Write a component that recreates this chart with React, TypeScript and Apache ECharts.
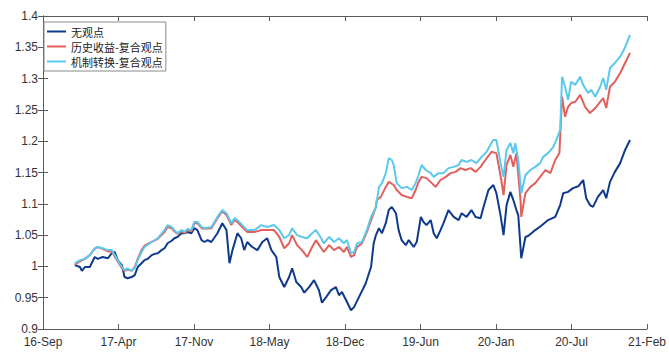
import React, { useEffect, useRef } from "react";
import * as echarts from "echarts";

const xTickLabels = ["16-Sep", "17-Apr", "17-Nov", "18-May", "18-Dec", "19-Jun", "20-Jan", "20-Jul", "21-Feb"];
const seriesNames = ["无观点", "历史收益-复合观点", "机制转换-复合观点"];
const seriesColors = ["#0f3a8c", "#e0605c", "#5cc8ee"];

// [day offset from 16-Sep axis start, net value]
const noViewData = [
  [84, 1.002], [98, 0.999], [103, 0.993], [111, 0.999], [124, 0.999], [137, 1.015], [145, 1.012], [158, 1.015],
  [172, 1.013], [182, 1.021], [190, 1.023], [198, 1.01], [209, 1.002], [216, 0.983], [224, 0.981], [235, 0.983],
  [243, 0.986], [251, 0.999], [261, 1.005], [269, 1.01], [277, 1.012], [288, 1.018], [296, 1.02], [304, 1.021],
  [314, 1.026], [322, 1.029], [330, 1.037], [341, 1.041], [348, 1.045], [356, 1.047], [367, 1.053], [375, 1.053],
  [383, 1.055], [393, 1.053], [401, 1.061], [409, 1.058], [420, 1.042], [428, 1.039], [436, 1.042], [446, 1.039],
  [462, 1.053], [475, 1.069], [486, 1.058], [494, 1.005], [502, 1.026], [515, 1.053], [525, 1.045], [533, 1.026],
  [541, 1.039], [554, 1.031], [568, 1.026], [581, 1.039], [594, 1.045], [605, 1.026], [618, 1.015], [626, 0.983],
  [639, 0.967], [652, 0.983], [660, 0.997], [671, 0.975], [684, 0.967], [692, 0.958], [705, 0.967], [718, 0.978],
  [731, 0.962], [739, 0.942], [750, 0.951], [763, 0.962], [776, 0.967], [784, 0.954], [792, 0.959], [803, 0.946],
  [816, 0.93], [824, 0.935], [837, 0.951], [855, 0.973], [869, 0.999], [876, 1.037], [882, 1.05], [890, 1.061],
  [898, 1.053], [908, 1.069], [916, 1.09], [924, 1.095], [935, 1.085], [942, 1.058], [950, 1.042], [961, 1.034],
  [969, 1.042], [982, 1.031], [990, 1.039], [1001, 1.079], [1008, 1.071], [1016, 1.066], [1027, 1.074], [1035, 1.053],
  [1043, 1.045], [1053, 1.058], [1061, 1.069], [1074, 1.09], [1088, 1.079], [1101, 1.074], [1109, 1.085], [1122, 1.079],
  [1135, 1.09], [1146, 1.079], [1159, 1.077], [1167, 1.095], [1180, 1.122], [1193, 1.13], [1201, 1.117], [1212, 1.082],
  [1220, 1.05], [1228, 1.098], [1238, 1.119], [1246, 1.106], [1254, 1.09], [1259, 1.082], [1267, 1.013], [1278, 1.047],
  [1286, 1.049], [1304, 1.058], [1320, 1.065], [1338, 1.074], [1357, 1.079], [1370, 1.098], [1378, 1.117], [1391, 1.119],
  [1404, 1.125], [1418, 1.128], [1431, 1.138], [1439, 1.109], [1449, 1.098], [1457, 1.095], [1470, 1.111], [1484, 1.122],
  [1492, 1.109], [1502, 1.135], [1515, 1.151], [1529, 1.165], [1542, 1.186], [1555, 1.202],
];

const histReturnData = [
  [84, 1.003], [98, 1.008], [111, 1.012], [124, 1.018], [137, 1.028], [145, 1.031], [158, 1.028], [172, 1.024],
  [182, 1.024], [190, 1.016], [198, 1.008], [209, 0.997], [216, 0.993], [224, 0.995], [235, 0.993], [243, 0.999],
  [251, 1.012], [261, 1.026], [269, 1.033], [288, 1.039], [304, 1.044], [322, 1.055], [330, 1.063], [341, 1.061],
  [348, 1.056], [356, 1.052], [367, 1.056], [375, 1.053], [383, 1.058], [393, 1.056], [401, 1.069], [409, 1.069],
  [420, 1.061], [428, 1.06], [446, 1.061], [462, 1.077], [475, 1.088], [486, 1.082], [499, 1.066], [507, 1.074],
  [515, 1.071], [528, 1.063], [541, 1.055], [560, 1.055], [578, 1.058], [594, 1.058], [612, 1.058], [626, 1.047],
  [639, 1.029], [652, 1.037], [660, 1.05], [673, 1.034], [686, 1.026], [700, 1.015], [713, 1.031], [723, 1.042],
  [737, 1.029], [744, 1.023], [758, 1.034], [771, 1.026], [784, 1.031], [797, 1.023], [805, 1.031], [816, 1.015],
  [824, 1.018], [832, 1.031], [845, 1.037], [858, 1.055], [869, 1.074], [882, 1.095], [884, 1.106], [895, 1.111],
  [908, 1.127], [916, 1.135], [929, 1.13], [937, 1.122], [950, 1.114], [964, 1.111], [977, 1.109], [987, 1.122],
  [995, 1.135], [1003, 1.143], [1016, 1.141], [1030, 1.133], [1040, 1.127], [1053, 1.138], [1067, 1.143], [1080, 1.149],
  [1093, 1.151], [1106, 1.157], [1119, 1.154], [1133, 1.157], [1146, 1.151], [1159, 1.159], [1172, 1.17], [1188, 1.183],
  [1201, 1.181], [1214, 1.138], [1220, 1.114], [1228, 1.162], [1238, 1.178], [1246, 1.159], [1254, 1.181], [1265, 1.106],
  [1267, 1.079], [1278, 1.117], [1291, 1.127], [1304, 1.133], [1317, 1.143], [1331, 1.154], [1344, 1.149], [1357, 1.17],
  [1368, 1.181], [1375, 1.271], [1383, 1.239], [1391, 1.255], [1399, 1.261], [1410, 1.263], [1423, 1.274], [1436, 1.255],
  [1449, 1.245], [1463, 1.253], [1476, 1.263], [1484, 1.269], [1492, 1.253], [1502, 1.287], [1515, 1.295], [1529, 1.309],
  [1542, 1.325], [1555, 1.341],
];

const regimeSwitchData = [
  [84, 1.005], [98, 1.01], [111, 1.012], [124, 1.018], [137, 1.029], [145, 1.031], [158, 1.029], [172, 1.026],
  [182, 1.026], [190, 1.018], [198, 1.01], [209, 0.999], [216, 0.994], [224, 0.997], [235, 0.993], [243, 0.997],
  [251, 1.01], [261, 1.023], [269, 1.031], [288, 1.039], [304, 1.045], [322, 1.058], [330, 1.066], [341, 1.063],
  [348, 1.058], [356, 1.053], [367, 1.058], [375, 1.055], [383, 1.06], [393, 1.058], [401, 1.071], [409, 1.071],
  [420, 1.063], [428, 1.061], [446, 1.063], [462, 1.079], [475, 1.09], [486, 1.085], [499, 1.069], [507, 1.077],
  [515, 1.074], [528, 1.066], [541, 1.058], [560, 1.058], [578, 1.066], [594, 1.063], [612, 1.066], [626, 1.058],
  [639, 1.045], [652, 1.05], [660, 1.061], [673, 1.05], [686, 1.047], [700, 1.045], [713, 1.053], [723, 1.058],
  [737, 1.045], [744, 1.037], [758, 1.047], [771, 1.039], [784, 1.045], [797, 1.037], [805, 1.042], [816, 1.021],
  [824, 1.023], [832, 1.037], [845, 1.039], [858, 1.058], [869, 1.079], [882, 1.095], [890, 1.127], [898, 1.133],
  [908, 1.149], [916, 1.173], [924, 1.17], [929, 1.162], [937, 1.133], [950, 1.125], [964, 1.127], [977, 1.122],
  [987, 1.133], [995, 1.146], [1003, 1.162], [1014, 1.154], [1027, 1.149], [1035, 1.143], [1048, 1.149], [1061, 1.149],
  [1074, 1.157], [1088, 1.159], [1101, 1.162], [1109, 1.17], [1122, 1.167], [1135, 1.17], [1148, 1.165], [1162, 1.175],
  [1175, 1.183], [1188, 1.197], [1193, 1.202], [1201, 1.202], [1214, 1.159], [1220, 1.143], [1228, 1.186], [1238, 1.197],
  [1246, 1.181], [1251, 1.197], [1259, 1.17], [1267, 1.117], [1278, 1.146], [1291, 1.154], [1304, 1.159], [1317, 1.165],
  [1325, 1.175], [1338, 1.181], [1352, 1.191], [1360, 1.202], [1370, 1.218], [1375, 1.303], [1383, 1.287], [1391, 1.266],
  [1399, 1.295], [1410, 1.29], [1423, 1.303], [1431, 1.29], [1444, 1.277], [1452, 1.282], [1463, 1.271], [1476, 1.287],
  [1484, 1.301], [1492, 1.282], [1502, 1.317], [1515, 1.325], [1529, 1.335], [1542, 1.35], [1555, 1.37],
];

const X_MAX = 1600;
const X_STEP = 200;

export default function App() {
  const ref = useRef<HTMLDivElement>(null);

  useEffect(() => {
    if (!ref.current) return;
    const chart = echarts.init(ref.current, null, { renderer: "svg" });
    const axisLineStyle = { color: "#5a5a5a", width: 1 };
    const labelFont = { fontFamily: "Liberation Sans, Arial, sans-serif", fontSize: 12, color: "#333" };
    const option = {
      animation: false,
      backgroundColor: "#ffffff",
      grid: { left: 43, right: 20, top: 16, bottom: 25, containLabel: false },
      legend: {
        data: seriesNames,
        orient: "vertical",
        left: 44,
        top: 22,
        itemWidth: 19,
        itemHeight: 2,
        itemGap: 4,
        icon: "rect",
        padding: [4, 3, 4, 3],
        borderColor: "#8a8a8a",
        borderWidth: 1,
        backgroundColor: "#ffffff",
        textStyle: { fontFamily: "Noto Sans CJK SC", fontSize: 11, lineHeight: 11, color: "#222" },
      },
      xAxis: [
        {
          type: "value",
          min: 0,
          max: X_MAX,
          interval: X_STEP,
          position: "bottom",
          axisLine: { show: true, lineStyle: axisLineStyle },
          axisTick: { show: true, inside: true, length: 5, lineStyle: axisLineStyle },
          axisLabel: {
            ...labelFont,
            margin: 7,
            showMinLabel: true,
            showMaxLabel: true,
            formatter: (v: number) => xTickLabels[Math.round(v / X_STEP)] ?? "",
          },
          splitLine: { show: false },
        },
        {
          type: "value",
          min: 0,
          max: X_MAX,
          interval: X_STEP,
          position: "top",
          axisLine: { show: true, lineStyle: axisLineStyle },
          axisTick: { show: true, inside: true, length: 5, lineStyle: axisLineStyle },
          axisLabel: { show: false },
          splitLine: { show: false },
        },
      ],
      yAxis: [
        {
          type: "value",
          min: 0.9,
          max: 1.4,
          interval: 0.05,
          position: "left",
          axisLine: { show: true, lineStyle: axisLineStyle },
          axisTick: { show: true, inside: true, length: 5, lineStyle: axisLineStyle },
          axisLabel: { ...labelFont, margin: 5 },
          splitLine: { show: false },
        },
        {
          type: "value",
          min: 0.9,
          max: 1.4,
          interval: 0.05,
          position: "right",
          axisLine: { show: true, lineStyle: axisLineStyle },
          axisTick: { show: true, inside: true, length: 5, lineStyle: axisLineStyle },
          axisLabel: { show: false },
          splitLine: { show: false },
        },
      ],
      series: [noViewData, histReturnData, regimeSwitchData].map((d, i) => ({
        name: seriesNames[i],
        type: "line",
        data: d,
        xAxisIndex: 0,
        yAxisIndex: 0,
        showSymbol: false,
        symbol: "none",
        smooth: false,
        color: seriesColors[i],
        lineStyle: { color: seriesColors[i], width: 2 },
        z: 2 + i,
      })),
    };
    chart.setOption(option as any);
    return () => chart.dispose();
  }, []);

  return (
    <div
      ref={ref}
      style={{ position: "fixed", left: 0, top: 0, width: 669, height: 354, background: "#fff" }}
    />
  );
}
